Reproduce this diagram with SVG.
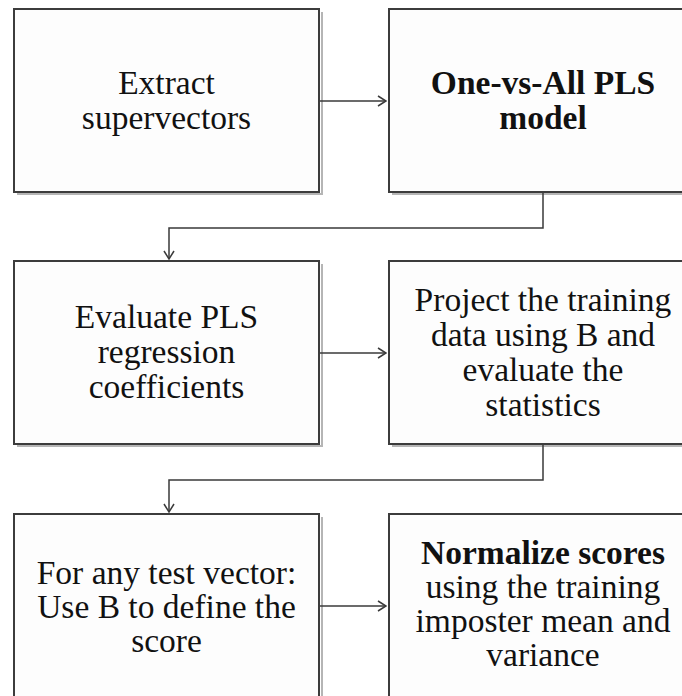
<svg xmlns="http://www.w3.org/2000/svg" width="682" height="696" viewBox="0 0 682 696">
<style>
.box{fill:#fdfdfd;stroke:#3c3c3c;stroke-width:2}
.sh{fill:none;stroke:#b5b5b5;stroke-width:2}
.t{font-family:'Liberation Serif','Times New Roman',serif;font-size:33.5px;fill:#111;text-anchor:middle}
.b{font-weight:bold}
.c{fill:none;stroke:#3a3a3a;stroke-width:1.5}
</style>
<defs>
<marker id="ah" viewBox="0 0 10 12" refX="9" refY="6" markerWidth="10" markerHeight="12" markerUnits="userSpaceOnUse" orient="auto">
<path d="M1,1 L9,6 L1,11" fill="none" stroke="#3a3a3a" stroke-width="1.5"/>
</marker>
</defs>
<rect width="682" height="696" fill="#ffffff"/>
<g id="n1">
<path class="sh" d="M322,12 V194 H17"/>
<rect class="box" x="14" y="9" width="305" height="183"/>
<text class="t" x="166.5" y="94">Extract</text>
<text class="t" x="166.5" y="129">supervectors</text>
</g>
<g id="n2">
<path class="sh" d="M392,194 H700"/>
<rect class="box" x="389" y="9" width="310" height="183"/>
<text class="t b" x="543" y="94">One-vs-All PLS</text>
<text class="t b" x="543" y="129">model</text>
</g>
<g id="n3">
<path class="sh" d="M322,264 V446 H17"/>
<rect class="box" x="14" y="261" width="305" height="183"/>
<text class="t" x="166.5" y="328">Evaluate PLS</text>
<text class="t" x="166.5" y="363">regression</text>
<text class="t" x="166.5" y="398">coefficients</text>
</g>
<g id="n4">
<path class="sh" d="M392,446 H700"/>
<rect class="box" x="389" y="261" width="310" height="183"/>
<text class="t" x="543" y="311">Project the training</text>
<text class="t" x="543" y="346">data using B and</text>
<text class="t" x="543" y="381">evaluate the</text>
<text class="t" x="543" y="416">statistics</text>
</g>
<g id="n5">
<path class="sh" d="M322,517 V700"/>
<rect class="box" x="14" y="514" width="305" height="190"/>
<text class="t" x="166.5" y="584">For any test vector:</text>
<text class="t" x="166.5" y="618">Use B to define the</text>
<text class="t" x="166.5" y="652">score</text>
</g>
<g id="n6">
<rect class="box" x="389" y="514" width="310" height="190"/>
<text class="t b" x="543" y="564">Normalize scores</text>
<text class="t" x="543" y="598">using the training</text>
<text class="t" x="543" y="632">imposter mean and</text>
<text class="t" x="543" y="666">variance</text>
</g>
<g id="connectors">
<path class="c" d="M320,101 H386" marker-end="url(#ah)"/>
<path class="c" d="M543,193 V228 H169 V259" marker-end="url(#ah)"/>
<path class="c" d="M320,353 H386" marker-end="url(#ah)"/>
<path class="c" d="M543,445 V480 H169 V512" marker-end="url(#ah)"/>
<path class="c" d="M320,606 H386" marker-end="url(#ah)"/>
</g>
</svg>
